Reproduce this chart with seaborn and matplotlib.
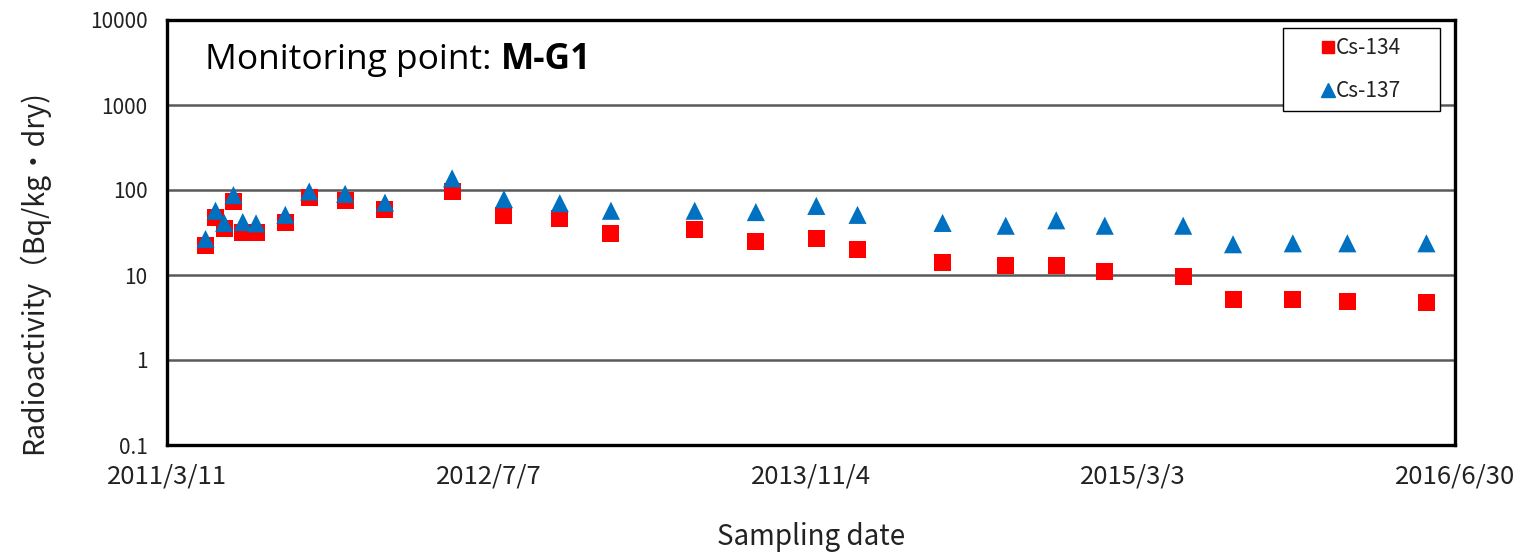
import matplotlib
matplotlib.use("Agg")
import matplotlib.pyplot as plt
from matplotlib.lines import Line2D
from matplotlib.patches import Rectangle
import pandas as pd
import seaborn as sns

# ---- data ----
sampling_dates = [
    "2011-05-08", "2011-05-23", "2011-06-05", "2011-06-19", "2011-07-03",
    "2011-07-23", "2011-09-05", "2011-10-11", "2011-12-04", "2012-02-02",
    "2012-05-13", "2012-07-30", "2012-10-22", "2013-01-07", "2013-05-13",
    "2013-08-13", "2013-11-12", "2014-01-13", "2014-05-21", "2014-08-24",
    "2014-11-08", "2015-01-20", "2015-05-18", "2015-08-01", "2015-10-30",
    "2016-01-20", "2016-05-18",
]
cs134 = [22.5, 47, 35, 73, 32, 32, 42, 81, 76, 59,
         95, 50, 46, 31, 34.5, 25, 27, 20, 14, 13,
         13, 11, 9.5, 5.2, 5.2, 4.9, 4.8]
cs137 = [26.5, 57, 41, 87, 42, 40.5, 51, 96, 90, 71,
         137, 78, 70, 57, 57, 55, 65, 51, 41, 38,
         44, 38, 38, 23, 23.6, 23.6, 23.6]
x_tick_dates = ["2011-03-11", "2012-07-07", "2013-11-04", "2015-03-03", "2016-06-30"]
x_tick_labels = ["2011/3/11", "2012/7/7", "2013/11/4", "2015/3/3", "2016/6/30"]
y_ticks = [0.1, 1, 10, 100, 1000, 10000]
y_tick_labels = ["0.1", "1", "10", "100", "1000", "10000"]
series_names = ["Cs-134", "Cs-137"]
title_prefix = "Monitoring point: "
title_point = "M-G1"
x_label = "Sampling date"
y_label = "Radioactivity（Bq/kg・dry)"

df = pd.DataFrame({
    "date": pd.to_datetime(sampling_dates),
    "Cs-134": cs134,
    "Cs-137": cs137,
})

sns.set_theme(style="white")
jp = ["Noto Sans CJK JP", "DejaVu Sans"]
plt.rcParams["font.family"] = jp

W, H = 1519, 553
L, R, T, B = 167, 1455, 20, 445
fig = plt.figure(figsize=(W / 100, H / 100), dpi=100)
ax = fig.add_axes([L / W, 1 - B / H, (R - L) / W, (B - T) / H])

def ax_x(px):
    return (px - L) / (R - L)

def ax_y(py):
    return (B - py) / (B - T)

red = "#FF0000"
blue = "#0070C0"
sns.scatterplot(data=df, x="date", y="Cs-134", marker="s", s=150, color=red,
                edgecolor="none", linewidth=0, ax=ax, zorder=3)
sns.scatterplot(data=df, x="date", y="Cs-137", marker="^", s=170, color=blue,
                edgecolor="none", linewidth=0, ax=ax, zorder=4)

ax.set_yscale("log")
ax.set_ylim(0.1, 10000)
ax.set_xlim(pd.Timestamp(x_tick_dates[0]), pd.Timestamp(x_tick_dates[-1]))
ax.set_yticks(y_ticks)
ax.set_yticklabels(y_tick_labels)
ax.yaxis.set_minor_locator(matplotlib.ticker.NullLocator())
ax.set_xticks([pd.Timestamp(d) for d in x_tick_dates])
ax.set_xticklabels(x_tick_labels)

ax.grid(axis="y", color="#595959", linewidth=1.8, zorder=1)
ax.grid(axis="x", visible=False)
ax.set_axisbelow(True)
for sp in ax.spines.values():
    sp.set_color("black")
    sp.set_linewidth(2.4)

ax.tick_params(axis="y", length=0, pad=14, labelsize=15, labelcolor="#222222")
ax.tick_params(axis="x", direction="in", length=6, width=1.2, color="#333333",
               pad=13, labelsize=18.5, labelcolor="#222222")

ax.set_xlabel(x_label, fontsize=20, color="#222222")
ax.xaxis.set_label_coords(0.5, ax_y(537))
ax.xaxis.label.set_va("center")
ax.set_ylabel(y_label, fontsize=20.5, color="#222222")
ax.yaxis.set_label_coords(ax_x(33), ax_y(272))
ax.yaxis.label.set_va("center")

# title inside the plot
tfam = ["Open Sans", "DejaVu Sans"]
t1 = ax.text(ax_x(205), ax_y(60), title_prefix, transform=ax.transAxes, fontsize=25.5,
             family=tfam, va="center", ha="left", color="black")
fig.canvas.draw()
bb = t1.get_window_extent()
inv = ax.transAxes.inverted()
x_end = inv.transform((bb.x1, bb.y0))[0]
ax.text(x_end, ax_y(60), title_point, transform=ax.transAxes, fontsize=25.5,
        family=tfam, fontweight="bold", va="center", ha="left", color="black")

# legend with box matching reference size
rect = Rectangle((ax_x(1283), ax_y(111)), ax_x(1440) - ax_x(1283), ax_y(28) - ax_y(111),
                 transform=ax.transAxes, facecolor="white", edgecolor="black",
                 linewidth=1.0, zorder=5)
ax.add_patch(rect)
handles = [
    Line2D([], [], marker="s", linestyle="none", color=red, markersize=9),
    Line2D([], [], marker="^", linestyle="none", color=blue, markersize=10),
]
leg = ax.legend(handles, series_names, loc="center",
                bbox_to_anchor=((ax_x(1283) + ax_x(1440)) / 2, (ax_y(28) + ax_y(111)) / 2),
                frameon=False, fontsize=15, handlelength=0.6, handletextpad=0.1,
                borderpad=0, labelspacing=1.0, borderaxespad=0)
leg.set_zorder(6)
for txt in leg.get_texts():
    txt.set_color("#222222")

fig.savefig("out.png", dpi=100, facecolor="white")
